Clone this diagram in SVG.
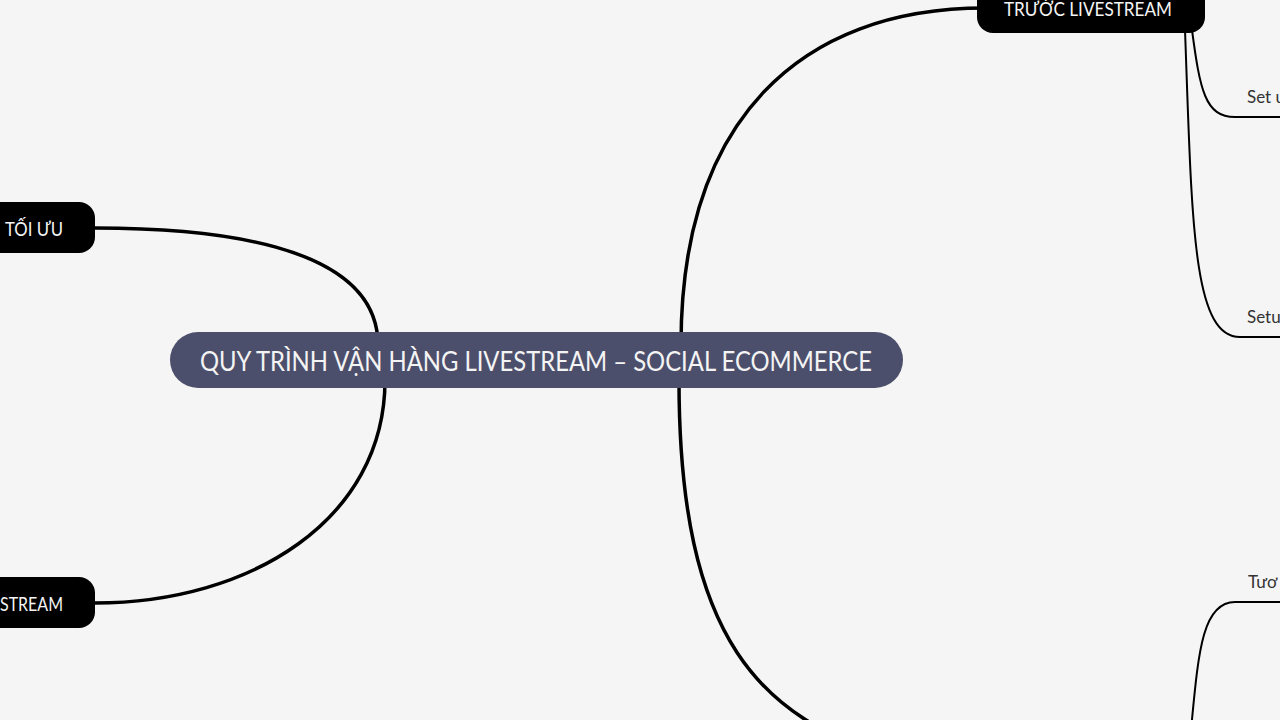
<svg xmlns="http://www.w3.org/2000/svg" width="1280" height="720" viewBox="0 0 1280 720">
<style>
.main{fill:none;stroke:#000;stroke-width:3.5;stroke-linecap:round}
.sub{fill:none;stroke:#000;stroke-width:2;stroke-linecap:round}
.topic{fill:#000}
.tt{font-family:Lato,"Open Sans","Liberation Sans",sans-serif;fill:#f4f4f4;font-size:19px}
.lbl{font-family:Lato,"Open Sans","Liberation Sans",sans-serif;fill:#333;font-size:17px}
</style>
<rect width="1280" height="720" fill="#f5f5f5"/>
<g id="connectors">
<path class="main" d="M378,345 C378,240 200,228 95,228"/>
<path class="main" d="M385,380 C385,520 250,603 95,603"/>
<path class="main" d="M681,345 C681,120 800,8 985,8"/>
<path class="main" d="M679,380 C679,640 760,720 900,760"/>
<path class="sub" d="M1192,30 C1200,90 1205,117 1235,117 L1280,117"/>
<path class="sub" d="M1185,30 C1192,220 1192,337 1240,337 L1280,337"/>
<path class="sub" d="M1190,740 C1198,660 1200,602 1235,602 L1280,602"/>
</g>
<g id="center">
<rect x="170" y="332" width="733" height="56" rx="28" fill="#4c4f6b"/>
<text x="536" y="371" text-anchor="middle" font-family="Lato,'Open Sans','Liberation Sans',sans-serif" font-size="27" fill="#f4f4f4" textLength="672" lengthAdjust="spacingAndGlyphs">QUY TRÌNH VẬN HÀNG LIVESTREAM – SOCIAL ECOMMERCE</text>
</g>
<g id="node-truoc">
<rect class="topic" x="977" y="-20" width="228" height="53" rx="16"/>
<text class="tt" x="1088" y="16" text-anchor="middle" textLength="168" lengthAdjust="spacingAndGlyphs">TRƯỚC LIVESTREAM</text>
</g>
<g id="node-toiuu">
<rect class="topic" x="-60" y="202" width="155" height="51" rx="16"/>
<text class="tt" x="5" y="236" textLength="58" lengthAdjust="spacingAndGlyphs">TỐI ƯU</text>
</g>
<g id="node-stream">
<rect class="topic" x="-60" y="577" width="155" height="51" rx="16"/>
<text class="tt" x="0" y="611" textLength="63" lengthAdjust="spacingAndGlyphs">STREAM</text>
</g>
<g id="label-setu1"><text class="lbl" x="1247" y="103">Set u</text></g>
<g id="label-setu2"><text class="lbl" x="1247" y="323">Setu</text></g>
<g id="label-tuo"><text class="lbl" x="1248" y="588">Tươ</text></g>
</svg>
